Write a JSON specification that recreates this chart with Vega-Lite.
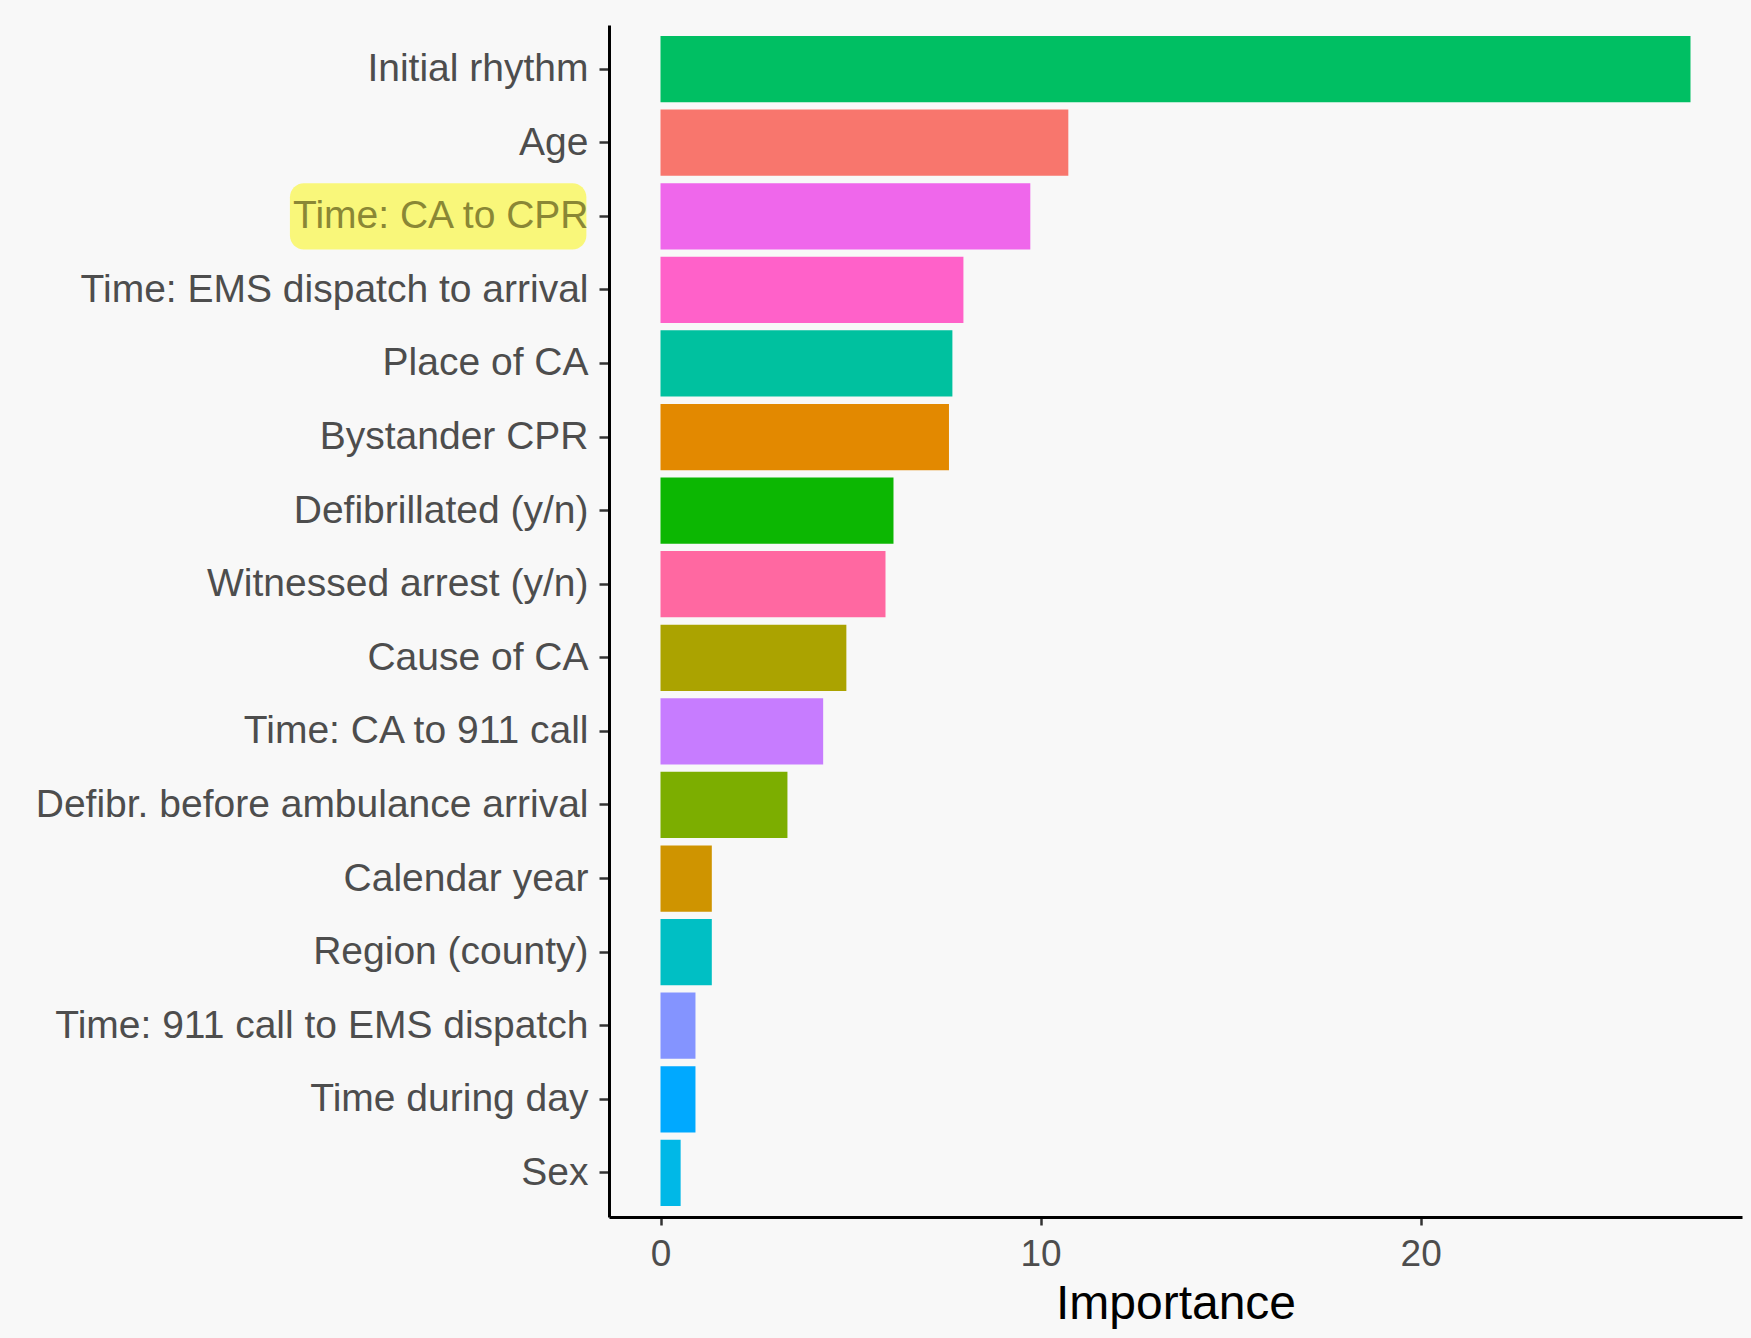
{
  "$schema": "https://vega.github.io/schema/vega-lite/v6.json",
  "autosize": {"type": "none"},
  "padding": {"left": 609, "top": 25, "right": 9, "bottom": 121},
  "width": 1133,
  "height": 1192,
  "background": "#F8F8F8",
  "config": {
    "view": {"stroke": null},
    "font": "Liberation Sans"
  },
  "datasets": {
    "features": [
      {"feature": "Initial rhythm", "importance": 27.1},
      {"feature": "Age", "importance": 10.73},
      {"feature": "Time: CA to CPR", "importance": 9.73},
      {"feature": "Time: EMS dispatch to arrival", "importance": 7.97},
      {"feature": "Place of CA", "importance": 7.68},
      {"feature": "Bystander CPR", "importance": 7.59},
      {"feature": "Defibrillated (y/n)", "importance": 6.13},
      {"feature": "Witnessed arrest (y/n)", "importance": 5.92},
      {"feature": "Cause of CA", "importance": 4.89},
      {"feature": "Time: CA to 911 call", "importance": 4.28},
      {"feature": "Defibr. before ambulance arrival", "importance": 3.34},
      {"feature": "Calendar year", "importance": 1.35},
      {"feature": "Region (county)", "importance": 1.35},
      {"feature": "Time: 911 call to EMS dispatch", "importance": 0.92},
      {"feature": "Time during day", "importance": 0.92},
      {"feature": "Sex", "importance": 0.53}
    ],
    "highlight": [
      {"feature": "Time: CA to CPR"}
    ]
  },
  "layer": [
    {
      "data": {"name": "highlight"},
      "mark": {"type": "rect", "color": "#F9F77A", "cornerRadius": 14, "clip": false},
      "encoding": {
        "y": {"field": "feature", "type": "nominal", "sort": null},
        "x": {"datum": -9.75},
        "x2": {"datum": -1.95}
      }
    },
    {
      "data": {"name": "features"},
      "mark": {"type": "bar"},
      "encoding": {
        "y": {
          "field": "feature",
          "type": "nominal",
          "sort": ["Initial rhythm", "Age", "Time: CA to CPR", "Time: EMS dispatch to arrival", "Place of CA", "Bystander CPR", "Defibrillated (y/n)", "Witnessed arrest (y/n)", "Cause of CA", "Time: CA to 911 call", "Defibr. before ambulance arrival", "Calendar year", "Region (county)", "Time: 911 call to EMS dispatch", "Time during day", "Sex"],
          "scale": {"paddingInner": 0.1, "paddingOuter": 0.15},
          "axis": {
            "title": null,
            "zindex": 1,
            "labelFontSize": 39,
            "labelColor": {"condition": {"test": "datum.value === 'Time: CA to CPR'", "value": "#8A8735"}, "value": "#4D4D4D"},
            "labelPadding": 11,
            "labelLimit": 700,
            "tickSize": 10,
            "tickWidth": 2.5,
            "tickColor": "#333333",
            "domainColor": "#000000",
            "domainWidth": 3,
            "grid": false
          }
        },
        "x": {
          "field": "importance",
          "type": "quantitative",
          "scale": {"domain": [-1.355, 28.455], "nice": false, "zero": false},
          "axis": {
            "title": "Importance",
            "values": [0, 10, 20],
            "titleFontSize": 48,
            "titleFontWeight": "normal",
            "titleColor": "#000000",
            "titlePadding": 8,
            "labelFontSize": 37,
            "labelColor": "#4D4D4D",
            "labelPadding": 11,
            "tickSize": 8,
            "tickWidth": 2.5,
            "tickColor": "#333333",
            "domainColor": "#000000",
            "domainWidth": 3,
            "grid": false
          }
        },
        "x2": {"datum": 0},
        "color": {
          "field": "feature",
          "type": "nominal",
          "legend": null,
          "scale": {
            "domain": ["Initial rhythm", "Age", "Time: CA to CPR", "Time: EMS dispatch to arrival", "Place of CA", "Bystander CPR", "Defibrillated (y/n)", "Witnessed arrest (y/n)", "Cause of CA", "Time: CA to 911 call", "Defibr. before ambulance arrival", "Calendar year", "Region (county)", "Time: 911 call to EMS dispatch", "Time during day", "Sex"],
            "range": ["#00BF63", "#F8766D", "#EF67EB", "#FF61C9", "#00C19F", "#E38900", "#0CB702", "#FF68A1", "#ABA300", "#C77CFF", "#7CAE00", "#CF9400", "#00BFC4", "#8494FF", "#00A9FF", "#00B8E7"]
          }
        }
      }
    }
  ]
}
